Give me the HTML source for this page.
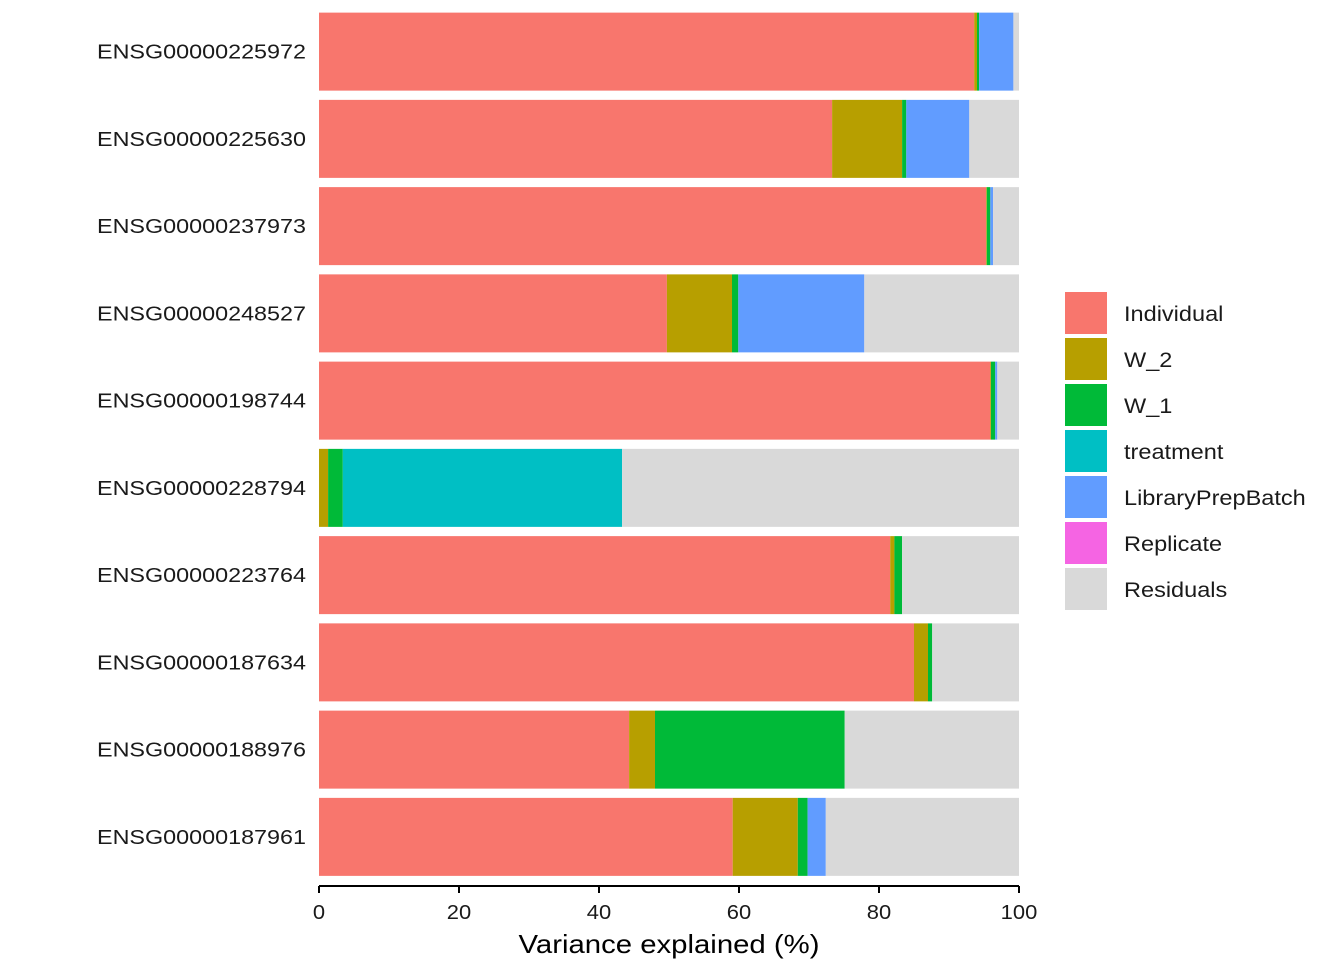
<!DOCTYPE html>
<html><head><meta charset="utf-8"><style>
body{margin:0;background:#fff;}
svg text{font-family:"Liberation Sans",sans-serif;}
</style></head><body>
<svg id="chart" width="1344" height="960" xmlns="http://www.w3.org/2000/svg"></svg>
<script>
const genes = ["ENSG00000225972","ENSG00000225630","ENSG00000237973","ENSG00000248527","ENSG00000198744","ENSG00000228794","ENSG00000223764","ENSG00000187634","ENSG00000188976","ENSG00000187961"];
const components = ["Individual","W_2","W_1","treatment","LibraryPrepBatch","Replicate","Residuals"];
const colors = ["#F8766D","#B79F00","#00BA38","#00BFC4","#619CFF","#F564E3","#D9D9D9"];
const individual = [93.6,73.3,95.3,49.7,95.9,0,81.6,85.0,44.3,59.1];
const w2 =         [0.4,10.0,0.1,9.3,0.1,1.3,0.6,2.0,3.7,9.3];
const w1 =         [0.3,0.6,0.5,0.9,0.6,2.1,1.1,0.6,27.1,1.4];
const treatment =  [0,0,0,0,0,39.9,0,0,0,0];
const libraryPrep =[4.9,9.0,0.4,18.0,0.3,0,0,0,0,2.6];
const replicate =  [0,0,0,0,0,0,0,0,0,0];
const residuals =  [0.8,7.1,3.7,22.1,3.1,56.7,16.7,12.4,24.9,27.6];
const xTicks = [0,20,40,60,80,100];

const series = [individual,w2,w1,treatment,libraryPrep,replicate,residuals];
const svg = document.getElementById('chart');
const NS = "http://www.w3.org/2000/svg";
const x0 = 319, x1 = 1019;
const xs = v => x0 + (x1 - x0) * v / 100;
const plotTop = 8, step = 87.25, bh = 78;
const yc = i => plotTop + step * i + step / 2;
function mk(tag, attrs){const e=document.createElementNS(NS,tag);for(const k in attrs)e.setAttribute(k,attrs[k]);svg.appendChild(e);return e;}

genes.forEach((g,i)=>{
  let acc = 0;
  series.forEach((s,j)=>{
    const v = s[i];
    if(v>0){
      const r = mk('rect',{x:xs(acc),y:yc(i)-bh/2,width:xs(acc+v)-xs(acc),height:bh,fill:colors[j]});
      
      
    }
    acc += v;
  });
  const t = mk('text',{x:306,y:yc(i)+7,'text-anchor':'end','font-size':20,fill:'#1a1a1a',textLength:209,lengthAdjust:'spacingAndGlyphs'});
  t.textContent = g;
  
  
});

const ax = mk('line',{x1:x0,x2:x1,y1:886,y2:886,stroke:'#000','stroke-width':2});


xTicks.forEach(v=>{
  const tk = mk('line',{x1:xs(v),x2:xs(v),y1:886,y2:893,stroke:'#000','stroke-width':2});
  
  
  const label = String(v);
  const t = mk('text',{x:xs(v),y:919,'text-anchor':'middle','font-size':20,fill:'#1a1a1a',textLength:label.length*12.2,lengthAdjust:'spacingAndGlyphs'});
  t.textContent = label;
  
  
});
const title = mk('text',{x:669,y:953,'text-anchor':'middle','font-size':26,fill:'#000',textLength:301,lengthAdjust:'spacingAndGlyphs'});
title.textContent = 'Variance explained (%)';



components.forEach((c,j)=>{
  const y = 292 + 46*j;
  const r = mk('rect',{x:1065,y:y,width:42,height:42,fill:colors[j]});
  
  
  const t = mk('text',{x:1124,y:y+29,'font-size':21,fill:'#1a1a1a'});
  t.textContent = c;
  
  
  const w = t.getComputedTextLength();
  t.setAttribute('textLength', w*1.12);
  t.setAttribute('lengthAdjust','spacingAndGlyphs');
});
</script>
</body></html>
